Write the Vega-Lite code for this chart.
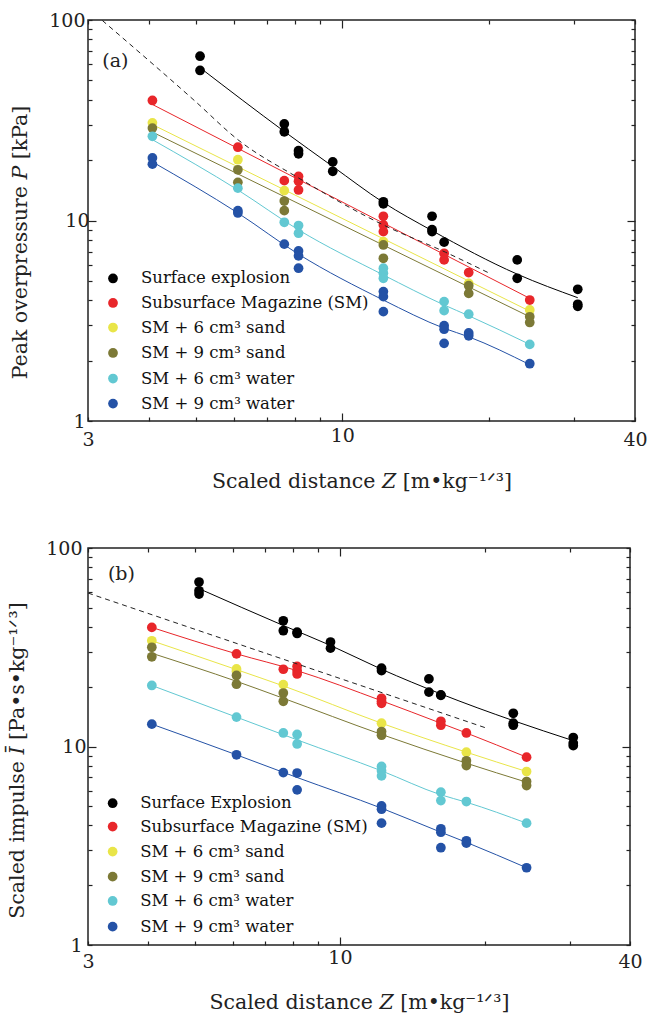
{
  "$schema": "https://vega.github.io/schema/vega-lite/v6.json",
  "padding": {"left": 6, "top": 10, "right": 5, "bottom": 2},
  "spacing": 45,
  "config": {
    "font": "DejaVu Serif",
    "view": {"stroke": "#222", "strokeWidth": 1.5},
    "axis": {"grid": false, "domain": false, "tickColor": "#222", "tickWidth": 1.2, "labelFont": "DejaVu Serif", "labelFontSize": 19, "labelColor": "#222", "titleFont": "DejaVu Serif", "titleFontSize": 20.5, "titleFontWeight": "normal", "titleColor": "#222", "labelFlush": false, "labelOverlap": false}
  },
  "resolve": {"scale": {"color": "independent", "stroke": "independent"}},
  "vconcat": [
    {
      "width": 547,
      "height": 401,
      "resolve": {"axis": {"x": "independent", "y": "independent"}},
      "layer": [
        {
          "data": {"values": [
            {"Z": 5.1, "P": 57.8, "s": "Surface explosion"},
            {"Z": 7.6, "P": 27.8, "s": "Surface explosion"},
            {"Z": 9.56, "P": 18.6, "s": "Surface explosion"},
            {"Z": 12.15, "P": 12.3, "s": "Surface explosion"},
            {"Z": 15.3, "P": 8.9, "s": "Surface explosion"},
            {"Z": 22.9, "P": 5.4, "s": "Surface explosion"},
            {"Z": 30.5, "P": 4.12, "s": "Surface explosion"},
            {"Z": 4.07, "P": 37.9, "s": "Subsurface Magazine (SM)"},
            {"Z": 24.3, "P": 4.09, "s": "Subsurface Magazine (SM)"},
            {"Z": 4.07, "P": 30.1, "s": "SM + 6 cm³ sand"},
            {"Z": 24.3, "P": 3.53, "s": "SM + 6 cm³ sand"},
            {"Z": 4.07, "P": 27.6, "s": "SM + 9 cm³ sand"},
            {"Z": 24.3, "P": 3.31, "s": "SM + 9 cm³ sand"},
            {"Z": 4.07, "P": 25.3, "s": "SM + 6 cm³ water"},
            {"Z": 6.1, "P": 14.2, "s": "SM + 6 cm³ water"},
            {"Z": 8.13, "P": 8.98, "s": "SM + 6 cm³ water"},
            {"Z": 12.15, "P": 5.35, "s": "SM + 6 cm³ water"},
            {"Z": 16.2, "P": 3.79, "s": "SM + 6 cm³ water"},
            {"Z": 18.2, "P": 3.35, "s": "SM + 6 cm³ water"},
            {"Z": 24.3, "P": 2.41, "s": "SM + 6 cm³ water"},
            {"Z": 4.07, "P": 19.6, "s": "SM + 9 cm³ water"},
            {"Z": 6.1, "P": 10.9, "s": "SM + 9 cm³ water"},
            {"Z": 8.13, "P": 6.79, "s": "SM + 9 cm³ water"},
            {"Z": 12.15, "P": 4.01, "s": "SM + 9 cm³ water"},
            {"Z": 16.2, "P": 2.9, "s": "SM + 9 cm³ water"},
            {"Z": 18.2, "P": 2.63, "s": "SM + 9 cm³ water"},
            {"Z": 24.3, "P": 1.91, "s": "SM + 9 cm³ water"}
          ]},
          "mark": {"type": "line", "strokeWidth": 1, "interpolate": "monotone"},
          "encoding": {
            "x": {"field": "Z", "type": "quantitative", "scale": {"type": "log", "domain": [3, 40], "nice": false}, "axis": {"orient": "bottom", "values": [3, 4, 5, 6, 7, 8, 9, 10, 20, 30, 40], "labelExpr": "indexof([3,10,40], datum.value) >= 0 ? format(datum.value, 'd') : ''", "tickSize": {"condition": {"test": "datum.value == 10", "value": -8}, "value": -4}, "labelBaseline": "middle", "labelPadding": 22, "title": "Scaled distance 𝑍 [m•kg⁻¹ᐟ³]", "titleBaseline": "middle", "titleY": 60}},
            "y": {"field": "P", "type": "quantitative", "scale": {"type": "log", "domain": [1, 100], "nice": false}, "axis": {"orient": "left", "values": [1, 2, 3, 4, 5, 6, 7, 8, 9, 10, 20, 30, 40, 50, 60, 70, 80, 90, 100], "labelExpr": "indexof([1,10,100], datum.value) >= 0 ? format(datum.value, 'd') : ''", "tickSize": {"condition": {"test": "datum.value == 10", "value": -8}, "value": -4}, "labelBaseline": "middle", "labelPadding": 7, "title": "Peak overpressure 𝑃 [kPa]", "titleAngle": -90, "titleAlign": "center", "titleBaseline": "alphabetic", "titleX": -61.5, "titleY": 222}},
            "stroke": {"field": "s", "type": "nominal", "scale": {"domain": ["Surface explosion", "Subsurface Magazine (SM)", "SM + 6 cm³ sand", "SM + 9 cm³ sand", "SM + 6 cm³ water", "SM + 9 cm³ water"], "range": ["#000000", "#e8262a", "#e9e548", "#7c7936", "#62c8d2", "#2452a6"]}, "legend": null}
          }
        },
        {
          "data": {"values": [
            {"Z": 5.1, "P": 66, "s": "Surface explosion"},
            {"Z": 5.1, "P": 56, "s": "Surface explosion"},
            {"Z": 7.6, "P": 30.3, "s": "Surface explosion"},
            {"Z": 7.6, "P": 27.7, "s": "Surface explosion"},
            {"Z": 8.13, "P": 22.3, "s": "Surface explosion"},
            {"Z": 8.13, "P": 21.5, "s": "Surface explosion"},
            {"Z": 9.56, "P": 19.6, "s": "Surface explosion"},
            {"Z": 9.56, "P": 17.6, "s": "Surface explosion"},
            {"Z": 12.15, "P": 12.4, "s": "Surface explosion"},
            {"Z": 12.15, "P": 12.1, "s": "Surface explosion"},
            {"Z": 15.3, "P": 10.5, "s": "Surface explosion"},
            {"Z": 15.3, "P": 9.0, "s": "Surface explosion"},
            {"Z": 15.3, "P": 8.8, "s": "Surface explosion"},
            {"Z": 16.2, "P": 7.8, "s": "Surface explosion"},
            {"Z": 22.9, "P": 6.36, "s": "Surface explosion"},
            {"Z": 22.9, "P": 5.15, "s": "Surface explosion"},
            {"Z": 30.5, "P": 4.54, "s": "Surface explosion"},
            {"Z": 30.5, "P": 3.82, "s": "Surface explosion"},
            {"Z": 30.5, "P": 3.73, "s": "Surface explosion"},
            {"Z": 4.07, "P": 39.7, "s": "Subsurface Magazine (SM)"},
            {"Z": 6.1, "P": 23.2, "s": "Subsurface Magazine (SM)"},
            {"Z": 7.6, "P": 15.8, "s": "Subsurface Magazine (SM)"},
            {"Z": 8.13, "P": 16.6, "s": "Subsurface Magazine (SM)"},
            {"Z": 8.13, "P": 15.7, "s": "Subsurface Magazine (SM)"},
            {"Z": 8.13, "P": 14.2, "s": "Subsurface Magazine (SM)"},
            {"Z": 12.15, "P": 10.5, "s": "Subsurface Magazine (SM)"},
            {"Z": 12.15, "P": 9.5, "s": "Subsurface Magazine (SM)"},
            {"Z": 12.15, "P": 8.8, "s": "Subsurface Magazine (SM)"},
            {"Z": 16.2, "P": 6.86, "s": "Subsurface Magazine (SM)"},
            {"Z": 16.2, "P": 6.36, "s": "Subsurface Magazine (SM)"},
            {"Z": 18.2, "P": 5.5, "s": "Subsurface Magazine (SM)"},
            {"Z": 24.3, "P": 4.01, "s": "Subsurface Magazine (SM)"},
            {"Z": 4.07, "P": 30.7, "s": "SM + 6 cm³ sand"},
            {"Z": 6.1, "P": 20.1, "s": "SM + 6 cm³ sand"},
            {"Z": 7.6, "P": 14.1, "s": "SM + 6 cm³ sand"},
            {"Z": 12.15, "P": 7.85, "s": "SM + 6 cm³ sand"},
            {"Z": 18.2, "P": 4.86, "s": "SM + 6 cm³ sand"},
            {"Z": 24.3, "P": 3.58, "s": "SM + 6 cm³ sand"},
            {"Z": 4.07, "P": 28.9, "s": "SM + 9 cm³ sand"},
            {"Z": 6.1, "P": 17.9, "s": "SM + 9 cm³ sand"},
            {"Z": 6.1, "P": 15.5, "s": "SM + 9 cm³ sand"},
            {"Z": 7.6, "P": 12.5, "s": "SM + 9 cm³ sand"},
            {"Z": 7.6, "P": 11.2, "s": "SM + 9 cm³ sand"},
            {"Z": 12.15, "P": 7.55, "s": "SM + 9 cm³ sand"},
            {"Z": 12.15, "P": 6.48, "s": "SM + 9 cm³ sand"},
            {"Z": 18.2, "P": 4.73, "s": "SM + 9 cm³ sand"},
            {"Z": 18.2, "P": 4.33, "s": "SM + 9 cm³ sand"},
            {"Z": 24.3, "P": 3.31, "s": "SM + 9 cm³ sand"},
            {"Z": 24.3, "P": 3.1, "s": "SM + 9 cm³ sand"},
            {"Z": 4.07, "P": 26.3, "s": "SM + 6 cm³ water"},
            {"Z": 6.1, "P": 14.5, "s": "SM + 6 cm³ water"},
            {"Z": 7.6, "P": 9.8, "s": "SM + 6 cm³ water"},
            {"Z": 8.13, "P": 9.44, "s": "SM + 6 cm³ water"},
            {"Z": 8.13, "P": 8.64, "s": "SM + 6 cm³ water"},
            {"Z": 12.15, "P": 5.78, "s": "SM + 6 cm³ water"},
            {"Z": 12.15, "P": 5.46, "s": "SM + 6 cm³ water"},
            {"Z": 12.15, "P": 5.15, "s": "SM + 6 cm³ water"},
            {"Z": 16.2, "P": 3.94, "s": "SM + 6 cm³ water"},
            {"Z": 16.2, "P": 3.55, "s": "SM + 6 cm³ water"},
            {"Z": 18.2, "P": 3.41, "s": "SM + 6 cm³ water"},
            {"Z": 24.3, "P": 2.41, "s": "SM + 6 cm³ water"},
            {"Z": 4.07, "P": 20.5, "s": "SM + 9 cm³ water"},
            {"Z": 4.07, "P": 19.1, "s": "SM + 9 cm³ water"},
            {"Z": 6.1, "P": 11.2, "s": "SM + 9 cm³ water"},
            {"Z": 6.1, "P": 10.9, "s": "SM + 9 cm³ water"},
            {"Z": 7.6, "P": 7.62, "s": "SM + 9 cm³ water"},
            {"Z": 8.13, "P": 7.05, "s": "SM + 9 cm³ water"},
            {"Z": 8.13, "P": 6.66, "s": "SM + 9 cm³ water"},
            {"Z": 8.13, "P": 5.78, "s": "SM + 9 cm³ water"},
            {"Z": 12.15, "P": 4.42, "s": "SM + 9 cm³ water"},
            {"Z": 12.15, "P": 4.17, "s": "SM + 9 cm³ water"},
            {"Z": 12.15, "P": 3.51, "s": "SM + 9 cm³ water"},
            {"Z": 16.2, "P": 2.99, "s": "SM + 9 cm³ water"},
            {"Z": 16.2, "P": 2.87, "s": "SM + 9 cm³ water"},
            {"Z": 16.2, "P": 2.44, "s": "SM + 9 cm³ water"},
            {"Z": 18.2, "P": 2.75, "s": "SM + 9 cm³ water"},
            {"Z": 18.2, "P": 2.66, "s": "SM + 9 cm³ water"},
            {"Z": 24.3, "P": 1.93, "s": "SM + 9 cm³ water"}
          ]},
          "mark": {"type": "circle", "size": 95, "opacity": 1},
          "encoding": {
            "x": {"field": "Z", "type": "quantitative", "scale": {"type": "log", "domain": [3, 40], "nice": false}, "axis": {"orient": "top", "values": [3, 4, 5, 6, 7, 8, 9, 10, 20, 30, 40], "labels": false, "title": null, "tickSize": {"condition": {"test": "datum.value == 10", "value": -8}, "value": -4}}},
            "y": {"field": "P", "type": "quantitative", "scale": {"type": "log", "domain": [1, 100], "nice": false}, "axis": {"orient": "right", "values": [1, 2, 3, 4, 5, 6, 7, 8, 9, 10, 20, 30, 40, 50, 60, 70, 80, 90, 100], "labels": false, "title": null, "tickSize": {"condition": {"test": "datum.value == 10", "value": -8}, "value": -4}}},
            "color": {"field": "s", "type": "nominal", "scale": {"domain": ["Surface explosion", "Subsurface Magazine (SM)", "SM + 6 cm³ sand", "SM + 9 cm³ sand", "SM + 6 cm³ water", "SM + 9 cm³ water"], "range": ["#000000", "#e8262a", "#e9e548", "#7c7936", "#62c8d2", "#2452a6"]}, "legend": null}
          }
        },
        {
          "data": {"values": [
            {"Z": 3.377, "P": 5.14, "s": "Surface explosion"},
            {"Z": 3.377, "P": 3.88, "s": "Subsurface Magazine (SM)"},
            {"Z": 3.377, "P": 2.925, "s": "SM + 6 cm³ sand"},
            {"Z": 3.377, "P": 2.185, "s": "SM + 9 cm³ sand"},
            {"Z": 3.377, "P": 1.628, "s": "SM + 6 cm³ water"},
            {"Z": 3.377, "P": 1.221, "s": "SM + 9 cm³ water"}
          ]},
          "layer": [
            {
              "mark": {"type": "circle", "size": 95, "opacity": 1},
              "encoding": {
                "x": {"field": "Z", "type": "quantitative", "axis": null},
                "y": {"field": "P", "type": "quantitative", "axis": null},
                "color": {"field": "s", "type": "nominal", "legend": null}
              }
            },
            {
              "mark": {"type": "text", "align": "left", "baseline": "middle", "dx": 28, "fontSize": 16.5, "color": "#111", "font": "DejaVu Serif"},
              "encoding": {
                "x": {"field": "Z", "type": "quantitative", "axis": null},
                "y": {"field": "P", "type": "quantitative", "axis": null},
                "text": {"field": "s"}
              }
            }
          ]
        },
        {
          "data": {"values": [
            {"Z": 3.21, "P": 99.5},
            {"Z": 4.98, "P": 39.4},
            {"Z": 6.1, "P": 25.3},
            {"Z": 8.13, "P": 16.3},
            {"Z": 12.15, "P": 9.5},
            {"Z": 16.3, "P": 6.95},
            {"Z": 20.1, "P": 5.45}
          ]},
          "mark": {"type": "line", "color": "#222", "strokeWidth": 1, "strokeDash": [5, 4], "interpolate": "monotone"},
          "encoding": {
            "x": {"field": "Z", "type": "quantitative", "axis": null},
            "y": {"field": "P", "type": "quantitative", "axis": null}
          }
        },
        {
          "data": {"values": [{"Z": 3.21, "P": 62.4, "t": "(a)"}]},
          "mark": {"type": "text", "align": "left", "baseline": "middle", "fontSize": 19, "color": "#222", "font": "DejaVu Serif"},
          "encoding": {
            "x": {"field": "Z", "type": "quantitative", "axis": null},
            "y": {"field": "P", "type": "quantitative", "axis": null},
            "text": {"field": "t"}
          }
        }
      ]
    },
    {
      "width": 542,
      "height": 397,
      "resolve": {"axis": {"x": "independent", "y": "independent"}},
      "layer": [
        {
          "data": {"values": [
            {"Z": 5.1, "I": 62.4, "s": "Surface Explosion"},
            {"Z": 7.63, "I": 40.7, "s": "Surface Explosion"},
            {"Z": 9.56, "I": 32.3, "s": "Surface Explosion"},
            {"Z": 12.2, "I": 24.5, "s": "Surface Explosion"},
            {"Z": 16.2, "I": 18.4, "s": "Surface Explosion"},
            {"Z": 22.9, "I": 13.5, "s": "Surface Explosion"},
            {"Z": 30.5, "I": 10.7, "s": "Surface Explosion"},
            {"Z": 4.07, "I": 39.8, "s": "Subsurface Magazine (SM)"},
            {"Z": 6.1, "I": 29.3, "s": "Subsurface Magazine (SM)"},
            {"Z": 8.15, "I": 24.1, "s": "Subsurface Magazine (SM)"},
            {"Z": 12.2, "I": 17.0, "s": "Subsurface Magazine (SM)"},
            {"Z": 16.2, "I": 13.1, "s": "Subsurface Magazine (SM)"},
            {"Z": 18.3, "I": 11.7, "s": "Subsurface Magazine (SM)"},
            {"Z": 24.4, "I": 8.84, "s": "Subsurface Magazine (SM)"},
            {"Z": 4.07, "I": 34.1, "s": "SM + 6 cm³ sand"},
            {"Z": 6.1, "I": 24.4, "s": "SM + 6 cm³ sand"},
            {"Z": 7.63, "I": 20.2, "s": "SM + 6 cm³ sand"},
            {"Z": 12.2, "I": 13.1, "s": "SM + 6 cm³ sand"},
            {"Z": 18.3, "I": 9.36, "s": "SM + 6 cm³ sand"},
            {"Z": 24.4, "I": 7.48, "s": "SM + 6 cm³ sand"},
            {"Z": 4.07, "I": 29.5, "s": "SM + 9 cm³ sand"},
            {"Z": 6.1, "I": 21.3, "s": "SM + 9 cm³ sand"},
            {"Z": 7.63, "I": 17.5, "s": "SM + 9 cm³ sand"},
            {"Z": 12.2, "I": 11.5, "s": "SM + 9 cm³ sand"},
            {"Z": 18.3, "I": 8.24, "s": "SM + 9 cm³ sand"},
            {"Z": 24.4, "I": 6.61, "s": "SM + 9 cm³ sand"},
            {"Z": 4.07, "I": 20.3, "s": "SM + 6 cm³ water"},
            {"Z": 6.1, "I": 14.06, "s": "SM + 6 cm³ water"},
            {"Z": 8.15, "I": 10.8, "s": "SM + 6 cm³ water"},
            {"Z": 12.2, "I": 7.54, "s": "SM + 6 cm³ water"},
            {"Z": 16.2, "I": 5.71, "s": "SM + 6 cm³ water"},
            {"Z": 18.3, "I": 5.24, "s": "SM + 6 cm³ water"},
            {"Z": 24.4, "I": 4.11, "s": "SM + 6 cm³ water"},
            {"Z": 4.07, "I": 12.96, "s": "SM + 9 cm³ water"},
            {"Z": 6.1, "I": 9.08, "s": "SM + 9 cm³ water"},
            {"Z": 8.15, "I": 6.98, "s": "SM + 9 cm³ water"},
            {"Z": 12.2, "I": 4.89, "s": "SM + 9 cm³ water"},
            {"Z": 16.2, "I": 3.70, "s": "SM + 9 cm³ water"},
            {"Z": 18.3, "I": 3.29, "s": "SM + 9 cm³ water"},
            {"Z": 24.4, "I": 2.45, "s": "SM + 9 cm³ water"}
          ]},
          "mark": {"type": "line", "strokeWidth": 1, "interpolate": "monotone"},
          "encoding": {
            "x": {"field": "Z", "type": "quantitative", "scale": {"type": "log", "domain": [3, 40], "nice": false}, "axis": {"orient": "bottom", "values": [3, 4, 5, 6, 7, 8, 9, 10, 20, 30, 40], "labelExpr": "indexof([3,10,40], datum.value) >= 0 ? format(datum.value, 'd') : ''", "tickSize": {"condition": {"test": "datum.value == 10", "value": -8}, "value": -4}, "labelBaseline": "middle", "labelPadding": 20, "title": "Scaled distance 𝑍 [m•kg⁻¹ᐟ³]", "titleBaseline": "middle", "titleY": 57}},
            "y": {"field": "I", "type": "quantitative", "scale": {"type": "log", "domain": [1, 100], "nice": false}, "axis": {"orient": "left", "values": [1, 2, 3, 4, 5, 6, 7, 8, 9, 10, 20, 30, 40, 50, 60, 70, 80, 90, 100], "labelExpr": "indexof([1,10,100], datum.value) >= 0 ? format(datum.value, 'd') : ''", "tickSize": {"condition": {"test": "datum.value == 10", "value": -8}, "value": -4}, "labelBaseline": "middle", "labelPadding": 10, "title": "Scaled impulse 𝐼̄ [Pa•s•kg⁻¹ᐟ³]", "titleAngle": -90, "titleAlign": "center", "titleBaseline": "alphabetic", "titleX": -64.8, "titleY": 212}},
            "stroke": {"field": "s", "type": "nominal", "scale": {"domain": ["Surface Explosion", "Subsurface Magazine (SM)", "SM + 6 cm³ sand", "SM + 9 cm³ sand", "SM + 6 cm³ water", "SM + 9 cm³ water"], "range": ["#000000", "#e8262a", "#e9e548", "#7c7936", "#62c8d2", "#2452a6"]}, "legend": null}
          }
        },
        {
          "data": {"values": [
            {"Z": 5.1, "I": 67.4, "s": "Surface Explosion"},
            {"Z": 5.1, "I": 60.9, "s": "Surface Explosion"},
            {"Z": 5.1, "I": 58.6, "s": "Surface Explosion"},
            {"Z": 7.63, "I": 43.0, "s": "Surface Explosion"},
            {"Z": 7.63, "I": 38.3, "s": "Surface Explosion"},
            {"Z": 8.15, "I": 37.7, "s": "Surface Explosion"},
            {"Z": 8.15, "I": 37.1, "s": "Surface Explosion"},
            {"Z": 9.56, "I": 33.6, "s": "Surface Explosion"},
            {"Z": 9.56, "I": 31.3, "s": "Surface Explosion"},
            {"Z": 12.2, "I": 24.8, "s": "Surface Explosion"},
            {"Z": 12.2, "I": 24.1, "s": "Surface Explosion"},
            {"Z": 15.3, "I": 21.9, "s": "Surface Explosion"},
            {"Z": 15.3, "I": 18.8, "s": "Surface Explosion"},
            {"Z": 16.2, "I": 18.2, "s": "Surface Explosion"},
            {"Z": 16.2, "I": 18.1, "s": "Surface Explosion"},
            {"Z": 22.9, "I": 14.7, "s": "Surface Explosion"},
            {"Z": 22.9, "I": 13.1, "s": "Surface Explosion"},
            {"Z": 22.9, "I": 12.8, "s": "Surface Explosion"},
            {"Z": 30.5, "I": 11.1, "s": "Surface Explosion"},
            {"Z": 30.5, "I": 10.4, "s": "Surface Explosion"},
            {"Z": 30.5, "I": 10.1, "s": "Surface Explosion"},
            {"Z": 4.07, "I": 39.8, "s": "Subsurface Magazine (SM)"},
            {"Z": 6.1, "I": 29.3, "s": "Subsurface Magazine (SM)"},
            {"Z": 7.63, "I": 24.5, "s": "Subsurface Magazine (SM)"},
            {"Z": 8.15, "I": 25.3, "s": "Subsurface Magazine (SM)"},
            {"Z": 8.15, "I": 24.1, "s": "Subsurface Magazine (SM)"},
            {"Z": 8.15, "I": 23.2, "s": "Subsurface Magazine (SM)"},
            {"Z": 12.2, "I": 17.5, "s": "Subsurface Magazine (SM)"},
            {"Z": 12.2, "I": 16.9, "s": "Subsurface Magazine (SM)"},
            {"Z": 12.2, "I": 16.5, "s": "Subsurface Magazine (SM)"},
            {"Z": 16.2, "I": 13.4, "s": "Subsurface Magazine (SM)"},
            {"Z": 16.2, "I": 12.8, "s": "Subsurface Magazine (SM)"},
            {"Z": 18.3, "I": 11.7, "s": "Subsurface Magazine (SM)"},
            {"Z": 24.4, "I": 8.84, "s": "Subsurface Magazine (SM)"},
            {"Z": 4.07, "I": 34.1, "s": "SM + 6 cm³ sand"},
            {"Z": 6.1, "I": 24.6, "s": "SM + 6 cm³ sand"},
            {"Z": 6.1, "I": 23.9, "s": "SM + 6 cm³ sand"},
            {"Z": 7.63, "I": 20.5, "s": "SM + 6 cm³ sand"},
            {"Z": 12.2, "I": 13.1, "s": "SM + 6 cm³ sand"},
            {"Z": 18.3, "I": 9.36, "s": "SM + 6 cm³ sand"},
            {"Z": 24.4, "I": 7.48, "s": "SM + 6 cm³ sand"},
            {"Z": 4.07, "I": 31.6, "s": "SM + 9 cm³ sand"},
            {"Z": 4.07, "I": 28.3, "s": "SM + 9 cm³ sand"},
            {"Z": 6.1, "I": 22.8, "s": "SM + 9 cm³ sand"},
            {"Z": 6.1, "I": 20.6, "s": "SM + 9 cm³ sand"},
            {"Z": 7.63, "I": 18.6, "s": "SM + 9 cm³ sand"},
            {"Z": 7.63, "I": 16.9, "s": "SM + 9 cm³ sand"},
            {"Z": 12.2, "I": 11.9, "s": "SM + 9 cm³ sand"},
            {"Z": 12.2, "I": 11.4, "s": "SM + 9 cm³ sand"},
            {"Z": 18.3, "I": 8.47, "s": "SM + 9 cm³ sand"},
            {"Z": 18.3, "I": 8.02, "s": "SM + 9 cm³ sand"},
            {"Z": 24.4, "I": 6.66, "s": "SM + 9 cm³ sand"},
            {"Z": 24.4, "I": 6.36, "s": "SM + 9 cm³ sand"},
            {"Z": 4.07, "I": 20.3, "s": "SM + 6 cm³ water"},
            {"Z": 6.1, "I": 14.06, "s": "SM + 6 cm³ water"},
            {"Z": 7.63, "I": 11.7, "s": "SM + 6 cm³ water"},
            {"Z": 8.15, "I": 11.5, "s": "SM + 6 cm³ water"},
            {"Z": 8.15, "I": 10.3, "s": "SM + 6 cm³ water"},
            {"Z": 12.2, "I": 7.93, "s": "SM + 6 cm³ water"},
            {"Z": 12.2, "I": 7.54, "s": "SM + 6 cm³ water"},
            {"Z": 12.2, "I": 7.11, "s": "SM + 6 cm³ water"},
            {"Z": 16.2, "I": 5.89, "s": "SM + 6 cm³ water"},
            {"Z": 16.2, "I": 5.34, "s": "SM + 6 cm³ water"},
            {"Z": 18.3, "I": 5.28, "s": "SM + 6 cm³ water"},
            {"Z": 24.4, "I": 4.11, "s": "SM + 6 cm³ water"},
            {"Z": 4.07, "I": 12.96, "s": "SM + 9 cm³ water"},
            {"Z": 6.1, "I": 9.08, "s": "SM + 9 cm³ water"},
            {"Z": 7.63, "I": 7.39, "s": "SM + 9 cm³ water"},
            {"Z": 8.15, "I": 7.35, "s": "SM + 9 cm³ water"},
            {"Z": 8.15, "I": 6.05, "s": "SM + 9 cm³ water"},
            {"Z": 12.2, "I": 5.02, "s": "SM + 9 cm³ water"},
            {"Z": 12.2, "I": 4.83, "s": "SM + 9 cm³ water"},
            {"Z": 12.2, "I": 4.11, "s": "SM + 9 cm³ water"},
            {"Z": 16.2, "I": 3.85, "s": "SM + 9 cm³ water"},
            {"Z": 16.2, "I": 3.70, "s": "SM + 9 cm³ water"},
            {"Z": 16.2, "I": 3.09, "s": "SM + 9 cm³ water"},
            {"Z": 18.3, "I": 3.35, "s": "SM + 9 cm³ water"},
            {"Z": 18.3, "I": 3.26, "s": "SM + 9 cm³ water"},
            {"Z": 24.4, "I": 2.45, "s": "SM + 9 cm³ water"}
          ]},
          "mark": {"type": "circle", "size": 95, "opacity": 1},
          "encoding": {
            "x": {"field": "Z", "type": "quantitative", "scale": {"type": "log", "domain": [3, 40], "nice": false}, "axis": {"orient": "top", "values": [3, 4, 5, 6, 7, 8, 9, 10, 20, 30, 40], "labels": false, "title": null, "tickSize": {"condition": {"test": "datum.value == 10", "value": -8}, "value": -4}}},
            "y": {"field": "I", "type": "quantitative", "scale": {"type": "log", "domain": [1, 100], "nice": false}, "axis": {"orient": "right", "values": [1, 2, 3, 4, 5, 6, 7, 8, 9, 10, 20, 30, 40, 50, 60, 70, 80, 90, 100], "labels": false, "title": null, "tickSize": {"condition": {"test": "datum.value == 10", "value": -8}, "value": -4}}},
            "color": {"field": "s", "type": "nominal", "scale": {"domain": ["Surface Explosion", "Subsurface Magazine (SM)", "SM + 6 cm³ sand", "SM + 9 cm³ sand", "SM + 6 cm³ water", "SM + 9 cm³ water"], "range": ["#000000", "#e8262a", "#e9e548", "#7c7936", "#62c8d2", "#2452a6"]}, "legend": null}
          }
        },
        {
          "data": {"values": [
            {"Z": 3.375, "I": 5.18, "s": "Surface Explosion"},
            {"Z": 3.375, "I": 3.95, "s": "Subsurface Magazine (SM)"},
            {"Z": 3.375, "I": 2.954, "s": "SM + 6 cm³ sand"},
            {"Z": 3.375, "I": 2.21, "s": "SM + 9 cm³ sand"},
            {"Z": 3.375, "I": 1.667, "s": "SM + 6 cm³ water"},
            {"Z": 3.375, "I": 1.237, "s": "SM + 9 cm³ water"}
          ]},
          "layer": [
            {
              "mark": {"type": "circle", "size": 95, "opacity": 1},
              "encoding": {
                "x": {"field": "Z", "type": "quantitative", "axis": null},
                "y": {"field": "I", "type": "quantitative", "axis": null},
                "color": {"field": "s", "type": "nominal", "legend": null}
              }
            },
            {
              "mark": {"type": "text", "align": "left", "baseline": "middle", "dx": 27.5, "fontSize": 16.5, "color": "#111", "font": "DejaVu Serif"},
              "encoding": {
                "x": {"field": "Z", "type": "quantitative", "axis": null},
                "y": {"field": "I", "type": "quantitative", "axis": null},
                "text": {"field": "s"}
              }
            }
          ]
        },
        {
          "data": {"values": [
            {"Z": 3.0, "I": 59.3},
            {"Z": 20.1, "I": 12.4}
          ]},
          "mark": {"type": "line", "color": "#222", "strokeWidth": 1, "strokeDash": [5, 4]},
          "encoding": {
            "x": {"field": "Z", "type": "quantitative", "axis": null},
            "y": {"field": "I", "type": "quantitative", "axis": null}
          }
        },
        {
          "data": {"values": [{"Z": 3.3, "I": 73.7, "t": "(b)"}]},
          "mark": {"type": "text", "align": "left", "baseline": "middle", "fontSize": 19, "color": "#222", "font": "DejaVu Serif"},
          "encoding": {
            "x": {"field": "Z", "type": "quantitative", "axis": null},
            "y": {"field": "I", "type": "quantitative", "axis": null},
            "text": {"field": "t"}
          }
        }
      ]
    }
  ]
}
